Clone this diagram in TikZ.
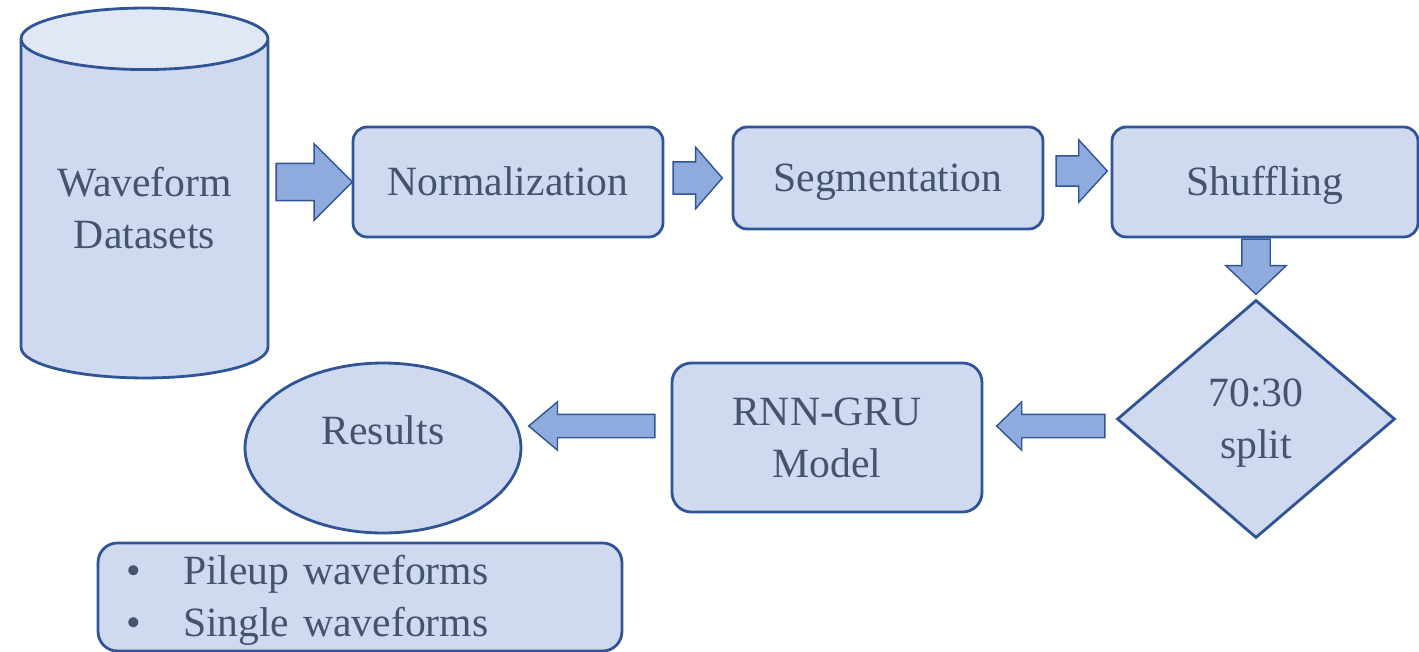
\documentclass[tikz,border=0pt]{standalone}
\usepackage{fontspec}
\setmainfont{Liberation Serif}
\usetikzlibrary{positioning, arrows.meta, shapes.geometric, shapes.arrows, calc}

\definecolor{boxfill}{HTML}{CFDAF0}
\definecolor{topfill}{HTML}{E0E7F5}
\definecolor{arrowfill}{HTML}{8FAADC}
\definecolor{edge}{HTML}{2F5597}
\definecolor{ink}{HTML}{44546A}

\newcommand{\tstrut}{\rule[-7pt]{0pt}{29.5pt}}

\begin{document}
\begin{tikzpicture}[
    x=0.02cm, y=-0.02cm,
    font=\fontsize{23.7}{29.5}\selectfont,
    stagebox/.style={
        draw=edge,
        fill=boxfill,
        line width=1.6pt,
        rounded corners=8pt,
        text=ink,
        align=center,
        inner sep=0pt
    },
    fat/.default={},
    fat/.style={
        to path={
            let \p1=(\tikztostart), \p2=(\tikztotarget),
                \n1={atan2(\y2-\y1,\x2-\x1)}, \n2={veclen(\x2-\x1,\y2-\y1)} in
            node[single arrow, draw=edge, fill=arrowfill, line width=0.8pt,
                 inner xsep=0pt, minimum width=0pt, minimum height=\n2,
                 single arrow head indent=0pt,
                 rotate=\n1, anchor=tail, #1] at (\p1) {}
        }
    }
]
    \useasboundingbox (0,0) rectangle (1419,652);

    \node[cylinder, shape border rotate=90, draw=edge, line width=1.6pt,
          cylinder uses custom fill, cylinder body fill=boxfill, cylinder end fill=topfill,
          aspect=0.33, minimum width=4.94cm, minimum height=7.4cm,
          text=ink, align=center, anchor=shape center] (data) at (144.5,193)
          {Waveform\tstrut\\Datasets\rule[-12.7pt]{0pt}{35.15pt}};

    \node[stagebox, minimum width=6.2cm, minimum height=2.2cm] (norm) at (508,182) {Normalization\tstrut};
    \node[stagebox, minimum width=6.2cm, minimum height=2.04cm] (seg) at (888,178) {Segmentation\tstrut};
    \node[stagebox, minimum width=6.12cm, minimum height=2.2cm] (shuf) at (1265,182) {Shuffling\tstrut};
    \node[diamond, draw=edge, fill=boxfill, line width=1.6pt, text=ink, align=center,
          inner sep=0pt, minimum width=5.56cm, minimum height=4.76cm] (split) at (1256,419) {70:30\tstrut\\split\tstrut};
    \node[stagebox, rounded corners=11pt, minimum width=6.2cm, minimum height=2.98cm] (model) at (827,437.5) {RNN-GRU\tstrut\\Model\tstrut};
    \node[ellipse, draw=edge, fill=boxfill, line width=1.6pt, minimum width=5.52cm, minimum height=3.4cm,
          label={[text=ink, yshift=0.36cm]center:Results}] (res) at (383,448) {};
    \node[stagebox, rounded corners=11pt, minimum width=10.48cm, minimum height=2.16cm,
          align=left, text width=9.36cm, inner xsep=0.56cm] (types) at (360,597)
          {\makebox[1.14cm][l]{\textbullet}Pileup waveforms\tstrut\\\makebox[1.14cm][l]{\textbullet}Single waveforms\tstrut};

    \path ($(data.east |- norm.west)+(6,0)$) to[fat={inner ysep=0.36cm, single arrow head extend=0.39cm, single arrow tip angle=90}] (norm.west);
    \path ($(norm.east |- seg.west)+(8,0)$) to[fat={inner ysep=0.31cm, single arrow head extend=0.29cm, single arrow tip angle=98}] ($(seg.west)+(-10,0)$);
    \path ($(seg.east)+(11,-7)$) to[fat={inner ysep=0.29cm, single arrow head extend=0.32cm, single arrow tip angle=95}] ($(shuf.west |- seg.east)+(-4,-7)$);
    \path (split.north |- shuf.south) to[fat={inner ysep=0.27cm, single arrow head extend=0.32cm, single arrow tip angle=93}] ($(split.north)+(0,-5)$);
    \path ($(split.west)+(-10,7)$) to[fat={inner ysep=0.22cm, single arrow head extend=0.25cm, single arrow tip angle=88}] ($(model.east |- split.west)+(14,7)$);
    \path ($(model.west |- split.west)+(-15,7)$) to[fat={inner ysep=0.22cm, single arrow head extend=0.25cm, single arrow tip angle=80}] ($(res.east |- split.west)+(7,7)$);
\end{tikzpicture}
\end{document}
